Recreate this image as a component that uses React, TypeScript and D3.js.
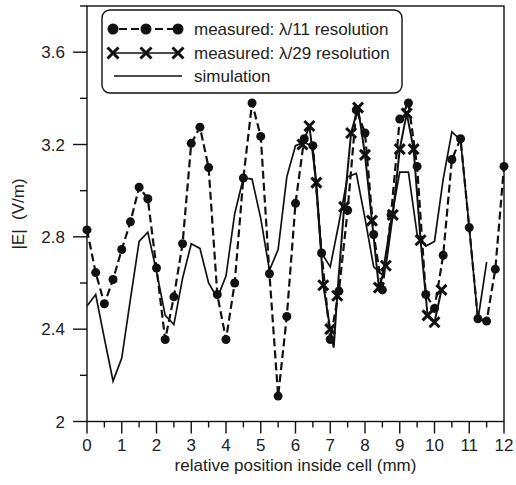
import { useEffect, useRef } from "react";
import * as d3 from "d3";

// measured, lambda/11 resolution (0.25 mm steps)
const coarseX = d3.range(0, 12.001, 0.25);
const coarseE = [
  2.83, 2.645, 2.51, 2.615, 2.745, 2.865, 3.015, 2.965, 2.665, 2.355,
  2.54, 2.77, 3.205, 3.275, 3.1, 2.55, 2.355, 2.6, 3.055, 3.38,
  3.235, 2.64, 2.11, 2.455, 2.945, 3.225, 3.195, 2.73, 2.355, 2.565,
  2.915, 3.35, 3.25, 2.81, 2.57, 2.895, 3.31, 3.38, 3.105, 2.55,
  2.49, 2.72, 3.135, 3.225, 2.84, 2.445, 2.435, 2.66, 3.105,
];

// measured, lambda/29 resolution
const fineX = [6.2, 6.4, 6.6, 6.8, 7.0, 7.1, 7.2, 7.4, 7.6, 7.8, 8.0, 8.2, 8.4, 8.6, 8.8, 9.0, 9.2, 9.4, 9.6, 9.8, 10.0, 10.2];
const fineE = [3.2, 3.28, 3.035, 2.59, 2.4, 2.32, 2.545, 2.93, 3.25, 3.36, 3.155, 2.87, 2.58, 2.675, 2.895, 3.18, 3.335, 3.18, 2.785, 2.46, 2.43, 2.57];
const fineMarked = fineX.map((x) => x !== 7.1);

// simulation
const simX = d3.range(0, 11.501, 0.25);
const simE = [
  2.5, 2.55, 2.36, 2.175, 2.275, 2.53, 2.78, 2.82, 2.65, 2.46,
  2.42, 2.62, 2.77, 2.75, 2.6, 2.535, 2.63, 2.9, 3.055, 3.05,
  2.88, 2.655, 2.745, 3.06, 3.195, 3.21, 3.19, 2.73, 2.67, 2.86,
  3.06, 3.075, 2.88, 2.67, 2.635, 2.87, 3.08, 3.08, 2.81, 2.76,
  2.78, 3.05, 3.255, 3.22, 2.84, 2.44, 2.69,
];

const xTicks = d3.range(0, 13, 1);
const yTicks = [2, 2.4, 2.8, 3.2, 3.6];

const legendLabels = ["measured: \u03bb/11 resolution", "measured: \u03bb/29 resolution", "simulation"];

const FONT = "'Liberation Sans', Arial, Helvetica, sans-serif";
const INK = "#111";

const App = () => {
  const ref = useRef<SVGSVGElement | null>(null);

  useEffect(() => {
    const svg = d3.select(ref.current);
    svg.selectAll("*").remove();

    const left = 87, right = 504, top = 6, bottom = 421.5;
    const x = d3.scaleLinear().domain([0, 12]).range([left, right]);
    const y = d3.scaleLinear().domain([2, 3.8]).range([bottom, top]);

    // frame
    svg.append("rect")
      .attr("x", left).attr("y", top)
      .attr("width", right - left).attr("height", bottom - top)
      .attr("fill", "none").attr("stroke", INK).attr("stroke-width", 1.4);

    // x ticks
    const xg = svg.append("g");
    d3.range(0, 12.001, 0.5).forEach((t) => {
      const major = Math.abs(t - Math.round(t)) < 1e-6;
      xg.append("line")
        .attr("x1", x(t)).attr("x2", x(t))
        .attr("y1", bottom).attr("y2", bottom + (major ? 12 : 6))
        .attr("stroke", INK).attr("stroke-width", 1.4);
    });
    xg.selectAll("text").data(xTicks).join("text")
      .attr("x", (d) => x(d)).attr("y", bottom + 29)
      .attr("text-anchor", "middle")
      .attr("font-family", FONT).attr("font-size", 17).attr("fill", "#222")
      .text((d) => d);

    // y ticks
    const yg = svg.append("g");
    d3.range(2, 3.801, 0.2).forEach((t) => {
      const major = yTicks.some((v) => Math.abs(v - t) < 1e-6);
      yg.append("line")
        .attr("x1", left - (major ? 14 : 7)).attr("x2", left)
        .attr("y1", y(t)).attr("y2", y(t))
        .attr("stroke", INK).attr("stroke-width", 1.4);
    });
    yg.selectAll("text").data(yTicks).join("text")
      .attr("x", left - 22).attr("y", (d) => y(d) + 6)
      .attr("text-anchor", "end")
      .attr("font-family", FONT).attr("font-size", 17).attr("fill", "#222")
      .text((d) => (d === 2 ? "2" : d.toFixed(1)));

    // axis titles
    svg.append("text")
      .attr("x", (left + right) / 2).attr("y", 471)
      .attr("text-anchor", "middle")
      .attr("font-family", FONT).attr("font-size", 17).attr("fill", "#222")
      .text("relative position inside cell (mm)");
    svg.append("text")
      .attr("transform", `translate(24, 214) rotate(-90)`)
      .attr("text-anchor", "middle")
      .attr("font-family", FONT).attr("font-size", 17).attr("fill", "#222")
      .attr("xml:space", "preserve")
      .text("|E|  (V/m)");

    const line = d3.line<[number, number]>().x((d) => x(d[0])).y((d) => y(d[1]));

    // simulation
    svg.append("path")
      .datum(simX.map((v, i) => [v, simE[i]] as [number, number]))
      .attr("fill", "none").attr("stroke", INK).attr("stroke-width", 1.7)
      .attr("d", line);

    // lambda/29
    const fine = fineX.map((v, i) => [v, fineE[i]] as [number, number]);
    svg.append("path")
      .datum(fine)
      .attr("fill", "none").attr("stroke", INK).attr("stroke-width", 2)
      .attr("d", line);

    const cross = (g: d3.Selection<SVGGElement, unknown, null, undefined>, cx: number, cy: number, s = 5) => {
      g.append("path")
        .attr("d", `M${cx - s},${cy - s}L${cx + s},${cy + s}M${cx - s},${cy + s}L${cx + s},${cy - s}`)
        .attr("stroke", INK).attr("stroke-width", 3).attr("fill", "none");
    };
    const crossG = svg.append("g");
    fine.forEach((d, i) => {
      if (fineMarked[i]) cross(crossG, x(d[0]), y(d[1]));
    });

    // lambda/11
    const coarse = coarseX.map((v, i) => [v, coarseE[i]] as [number, number]);
    svg.append("path")
      .datum(coarse)
      .attr("fill", "none").attr("stroke", INK).attr("stroke-width", 2.2)
      .attr("stroke-dasharray", "8,4")
      .attr("d", line);
    svg.append("g").selectAll("circle").data(coarse).join("circle")
      .attr("cx", (d) => x(d[0])).attr("cy", (d) => y(d[1]))
      .attr("r", 4.5).attr("fill", INK);

    // legend
    const lg = svg.append("g");
    lg.append("rect")
      .attr("x", 102).attr("y", 10).attr("width", 300).attr("height", 83)
      .attr("rx", 8).attr("fill", "white").attr("stroke", INK).attr("stroke-width", 1.4);
    const rows = [29, 53, 76];
    const mx = [113, 146, 178];
    lg.append("line").attr("x1", mx[0]).attr("x2", mx[2]).attr("y1", rows[0]).attr("y2", rows[0])
      .attr("stroke", INK).attr("stroke-width", 2.2).attr("stroke-dasharray", "8,4")
      .attr("stroke-dashoffset", -6);
    mx.forEach((m) => lg.append("circle").attr("cx", m).attr("cy", rows[0]).attr("r", 5.5).attr("fill", INK));
    lg.append("line").attr("x1", mx[0]).attr("x2", mx[2]).attr("y1", rows[1]).attr("y2", rows[1])
      .attr("stroke", INK).attr("stroke-width", 1.6);
    mx.forEach((m) => cross(lg, m, rows[1], 5.5));
    lg.append("line").attr("x1", 114).attr("x2", 182).attr("y1", rows[2]).attr("y2", rows[2])
      .attr("stroke", INK).attr("stroke-width", 1.7);
    lg.selectAll("text").data(legendLabels).join("text")
      .attr("x", 194).attr("y", (_d, i) => rows[i] + 6)
      .attr("font-family", FONT).attr("font-size", 17).attr("fill", "#222")
      .text((d) => d);
  }, []);

  return (
    <svg
      ref={ref}
      width={516}
      height={485}
      style={{ position: "absolute", left: 0, top: 0, background: "white" }}
    />
  );
};

export default App;
